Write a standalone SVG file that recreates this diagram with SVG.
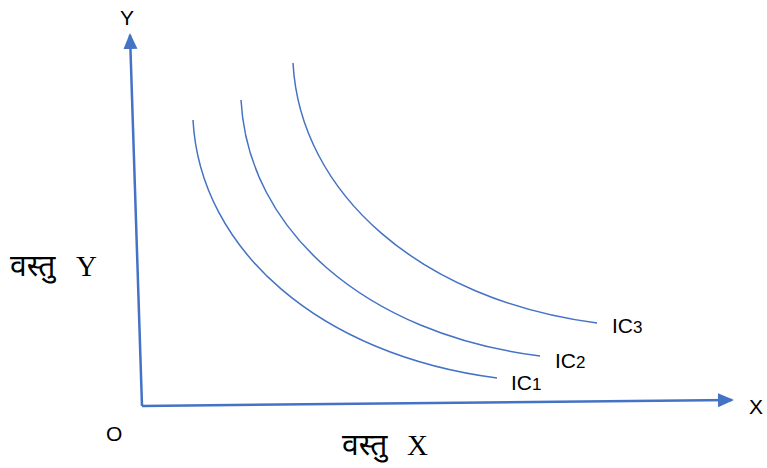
<svg xmlns="http://www.w3.org/2000/svg" width="767" height="468" viewBox="0 0 767 468">
<style>
.axis{stroke:#4472C4;stroke-width:2.5;fill:none}
.ic{stroke:#4472C4;stroke-width:1.5;fill:none}
.lbl{font-family:"Liberation Sans","Open Sans",sans-serif;font-size:21px;fill:#000}
.sub{font-size:17px}
.hi{font-family:"Noto Sans Devanagari","Mangal","Noto Sans",sans-serif;font-size:30px;fill:#000}
.ser{font-family:"Liberation Serif",serif;font-size:29px}
</style>
<defs>
<marker id="arr" markerWidth="16" markerHeight="16" refX="14" refY="8" orient="auto" markerUnits="userSpaceOnUse" viewBox="0 0 16 16">
<path d="M0,1 L16,8 L0,15 z" fill="#4472C4"/>
</marker>
</defs>
<g id="connectors">
<line class="axis" x1="142" y1="406" x2="130" y2="35" marker-end="url(#arr)"/>
<line class="axis" x1="142" y1="406" x2="732" y2="400" marker-end="url(#arr)"/>
</g>
<g id="IC1">
<path class="ic" d="M193,120 C200,250 320,355 497,378"/>
<text class="lbl" x="511" y="390">IC<tspan class="sub">1</tspan></text>
</g>
<g id="IC2">
<path class="ic" d="M241,100 C248,230 365,334 540,356"/>
<text class="lbl" x="555" y="368">IC<tspan class="sub">2</tspan></text>
</g>
<g id="IC3">
<path class="ic" d="M293,63 C300,193 420,300 597,323"/>
<text class="lbl" x="612" y="333">IC<tspan class="sub">3</tspan></text>
</g>
<g id="labels">
<text class="lbl" x="120" y="25">Y</text>
<text class="lbl" x="749" y="414">X</text>
<text class="lbl" x="106" y="441">O</text>
<text class="hi" x="10" y="276">वस्तु <tspan class="ser" x="76">Y</tspan></text>
<text class="hi" x="342" y="455">वस्तु <tspan class="ser" x="407">X</tspan></text>
</g>
</svg>
